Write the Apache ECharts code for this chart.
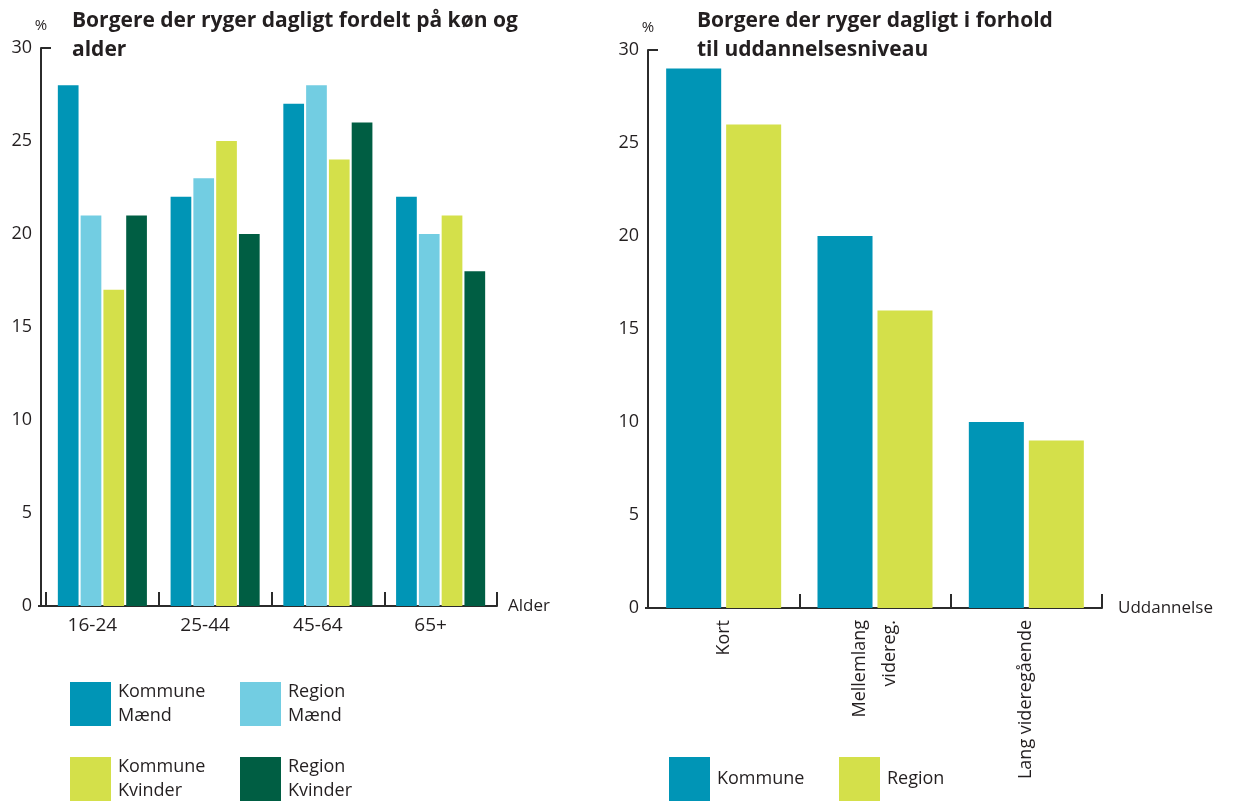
<!DOCTYPE html>
<html>
<head>
    <meta charset="utf-8">
    <title>Rygning</title>
    <script src="https://cdn.jsdelivr.net/npm/echarts@6/dist/echarts.min.js"></script>
</head>
<body style="margin:0;background:#fff;">
<div id="main" style="width:1237px;height:801px;"></div>
<script type="text/javascript">
    // data - alder
    const ageGroups = ['16-24', '25-44', '45-64', '65+'];
    const kommuneMaend = [28, 22, 27, 22];
    const regionMaend = [21, 23, 28, 20];
    const kommuneKvinder = [17, 25, 24, 21];
    const regionKvinder = [21, 20, 26, 18];

    // data - uddannelse
    const eduLevels = ['Kort', 'Mellemlang\nvidereg.', 'Lang videregående'];
    const eduKommune = [29, 20, 10];
    const eduRegion = [26, 16, 9];

    const yTicks = [0, 5, 10, 15, 20, 25, 30];

    const FONT = 'Open Sans';
    const TXT = '#231f20';
    const AX = '#2b2b2b';
    const C1 = '#0095b6', C2 = '#72cde2', C3 = '#d4e04a', C4 = '#005e43';

    const myChart = echarts.init(document.getElementById('main'));

    const axisLine = {show: true, lineStyle: {color: AX, width: 2}};

    function yAxis(gi, offset) {
        return {
            type: 'value', gridIndex: gi, offset: offset,
            min: yTicks[0], max: yTicks[yTicks.length - 1], interval: 5,
            name: '%', nameLocation: 'end', nameGap: 15,
            nameTextStyle: {fontFamily: FONT, fontSize: 15, color: TXT, align: 'center'},
            axisLine: axisLine,
            axisTick: {show: false},
            splitLine: {show: false},
            axisLabel: {fontFamily: FONT, fontSize: 18, color: TXT, margin: 9}
        };
    }

    function legend(name, left, top) {
        return {
            data: [name], left: left, top: top, orient: 'vertical', padding: 0,
            icon: 'rect', itemWidth: 41, itemHeight: 44, selectedMode: false,
            textStyle: {fontFamily: FONT, fontSize: 18, color: TXT, lineHeight: 24, padding: [0, 0, 0, 2]}
        };
    }

    const titleStyle = {fontFamily: FONT, fontSize: 21, fontWeight: 'bold', color: TXT, lineHeight: 29};

    const option = {
        animation: false,
        title: [
            {text: 'Borgere der ryger dagligt fordelt på køn og\nalder', left: 72, top: 7, padding: 0, textStyle: titleStyle},
            {text: 'Borgere der ryger dagligt i forhold\ntil uddannelsesniveau', left: 697, top: 7, padding: 0, textStyle: titleStyle}
        ],
        legend: [
            legend('Kommune\nMænd', 70, 680),
            legend('Region\nMænd', 240, 680),
            legend('Kommune\nKvinder', 70, 755),
            legend('Region\nKvinder', 240, 755),
            legend('Kommune', 669, 757),
            legend('Region', 839, 757)
        ],
        grid: [
            {left: 46, top: 48, right: 740, bottom: 195},
            {left: 648, top: 50, right: 135, bottom: 193}
        ],
        xAxis: [
            {
                type: 'category', gridIndex: 0, data: ageGroups,
                name: 'Alder', nameGap: 11,
                nameTextStyle: {fontFamily: FONT, fontSize: 17, color: TXT, verticalAlign: 'middle', padding: [0, 0, 8, 0]},
                axisLine: axisLine,
                axisTick: {show: true, inside: true, length: 14, lineStyle: {color: AX, width: 2}},
                axisLabel: {fontFamily: FONT, fontSize: 19, color: TXT, margin: 10, padding: [0, 20, 0, 0]}
            },
            {
                type: 'category', gridIndex: 1, data: eduLevels,
                name: 'Uddannelse', nameGap: 16,
                nameTextStyle: {fontFamily: FONT, fontSize: 17, color: TXT, verticalAlign: 'middle', padding: [0, 0, 4, 0]},
                axisLine: axisLine,
                axisTick: {show: true, inside: true, length: 14, lineStyle: {color: AX, width: 2}},
                axisLabel: {fontFamily: FONT, fontSize: 18, color: TXT, margin: 12, rotate: 90, lineHeight: 30}
            }
        ],
        yAxis: [yAxis(0, 5), yAxis(1, 0)],
        series: [
            {name: 'Kommune\nMænd', type: 'bar', xAxisIndex: 0, yAxisIndex: 0, data: kommuneMaend,
                itemStyle: {color: C1}, barGap: '10%', barCategoryGap: '21%'},
            {name: 'Region\nMænd', type: 'bar', xAxisIndex: 0, yAxisIndex: 0, data: regionMaend,
                itemStyle: {color: C2}},
            {name: 'Kommune\nKvinder', type: 'bar', xAxisIndex: 0, yAxisIndex: 0, data: kommuneKvinder,
                itemStyle: {color: C3}},
            {name: 'Region\nKvinder', type: 'bar', xAxisIndex: 0, yAxisIndex: 0, data: regionKvinder,
                itemStyle: {color: C4}},
            {name: 'Kommune', type: 'bar', xAxisIndex: 1, yAxisIndex: 1, data: eduKommune,
                itemStyle: {color: C1}, barGap: '9%', barCategoryGap: '24%'},
            {name: 'Region', type: 'bar', xAxisIndex: 1, yAxisIndex: 1, data: eduRegion,
                itemStyle: {color: C3}}
        ]
    };

    myChart.setOption(option);

    // lille tick i toppen af y-aksen + hjørnet ved 0
    const axisX = [41, 648];
    const extras = [];
    axisX.forEach(function (x, i) {
        const yTop = myChart.convertToPixel({yAxisIndex: i}, yTicks[yTicks.length - 1]);
        const yZero = myChart.convertToPixel({yAxisIndex: i}, yTicks[0]);
        extras.push({
            type: 'line', shape: {x1: x, y1: yTop, x2: x + 10, y2: yTop},
            style: {stroke: AX, lineWidth: 2}
        });
        extras.push({
            type: 'line', shape: {x1: x - 3, y1: yZero, x2: x + 6, y2: yZero},
            style: {stroke: AX, lineWidth: 2}
        });
    });
    myChart.setOption({graphic: extras});
</script>
</body>
</html>
